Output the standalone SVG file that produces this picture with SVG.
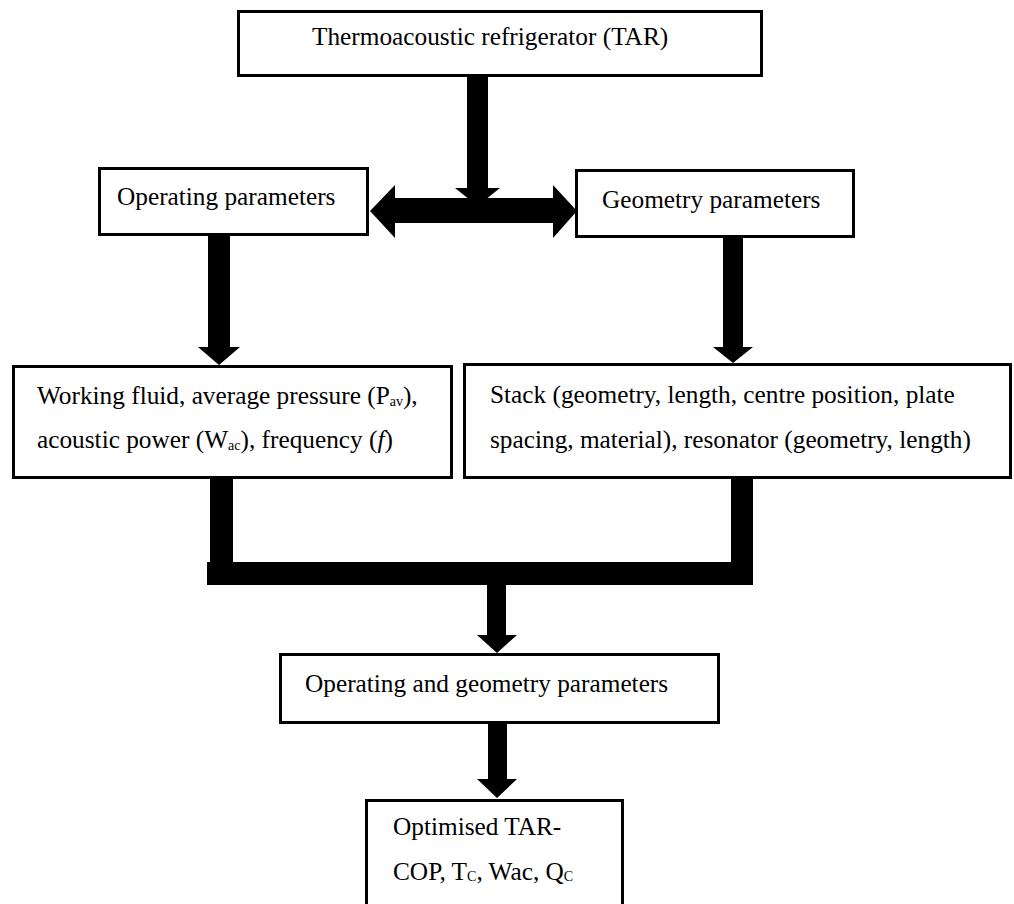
<svg xmlns="http://www.w3.org/2000/svg" width="1014" height="904" viewBox="0 0 1014 904">
<style>
.box{fill:#fff;stroke:#000;stroke-width:3}
.t{font-family:"Liberation Serif","Times New Roman",serif;font-size:25.3px;fill:#000}
.sub{font-size:14px}
.con{fill:#000;stroke:none}
</style>
<rect width="1014" height="904" fill="#fff"/>
<g id="connectors">
<path class="con" d="M467,76 H488 V188 H500 L477.5,206 L455,188 H467 Z"/>
<path class="con" d="M370,211 L395,185 V198 H553 V185 L577,211 L553,238 V223 H395 V238 Z"/>
<path class="con" d="M208,235 H230 V347 H240 L219,365 L198,347 H208 Z"/>
<path class="con" d="M723,237 H743 V347 H753 L733,363 L713,347 H723 Z"/>
<path class="con" d="M210,478 H233 V562 H731 V478 H753 V585 H207 V562 H210 Z"/>
<path class="con" d="M487,585 H506 V635 H517 L497,653 L477,635 H487 Z"/>
<path class="con" d="M488,723 H507 V779 H517 L497,798 L477,779 H488 Z"/>
</g>
<g id="node-tar">
<rect class="box" x="238.5" y="11.5" width="523" height="64"/>
<text class="t" x="312" y="45">Thermoacoustic refrigerator (TAR)</text>
</g>
<g id="node-operating">
<rect class="box" x="99.5" y="168.5" width="268" height="66"/>
<text class="t" x="117" y="205">Operating parameters</text>
</g>
<g id="node-geometry">
<rect class="box" x="576.5" y="170.5" width="277" height="66"/>
<text class="t" x="602" y="208">Geometry parameters</text>
</g>
<g id="node-working">
<rect class="box" x="13.5" y="366.5" width="438" height="111"/>
<text class="t" x="37" y="404">Working fluid, average pressure (P<tspan class="sub" dy="2">av</tspan><tspan dy="-2">),</tspan></text>
<text class="t" x="37" y="448">acoustic power (W<tspan class="sub" dy="2">ac</tspan><tspan dy="-2">), frequency (</tspan><tspan font-style="italic">f</tspan>)</text>
</g>
<g id="node-stack">
<rect class="box" x="464.5" y="364.5" width="546" height="113"/>
<text class="t" x="490" y="403">Stack (geometry, length, centre position, plate</text>
<text class="t" x="490" y="448">spacing, material), resonator (geometry, length)</text>
</g>
<g id="node-combined">
<rect class="box" x="280.5" y="654.5" width="438" height="68"/>
<text class="t" x="305" y="692">Operating and geometry parameters</text>
</g>
<g id="node-optimised">
<rect class="box" x="366.5" y="800.5" width="256" height="120"/>
<text class="t" x="393" y="835">Optimised TAR-</text>
<text class="t" x="393" y="880">COP, T<tspan class="sub" dy="1">C</tspan><tspan dy="-1">, Wac, Q</tspan><tspan class="sub" dy="1">C</tspan></text>
</g>
</svg>
